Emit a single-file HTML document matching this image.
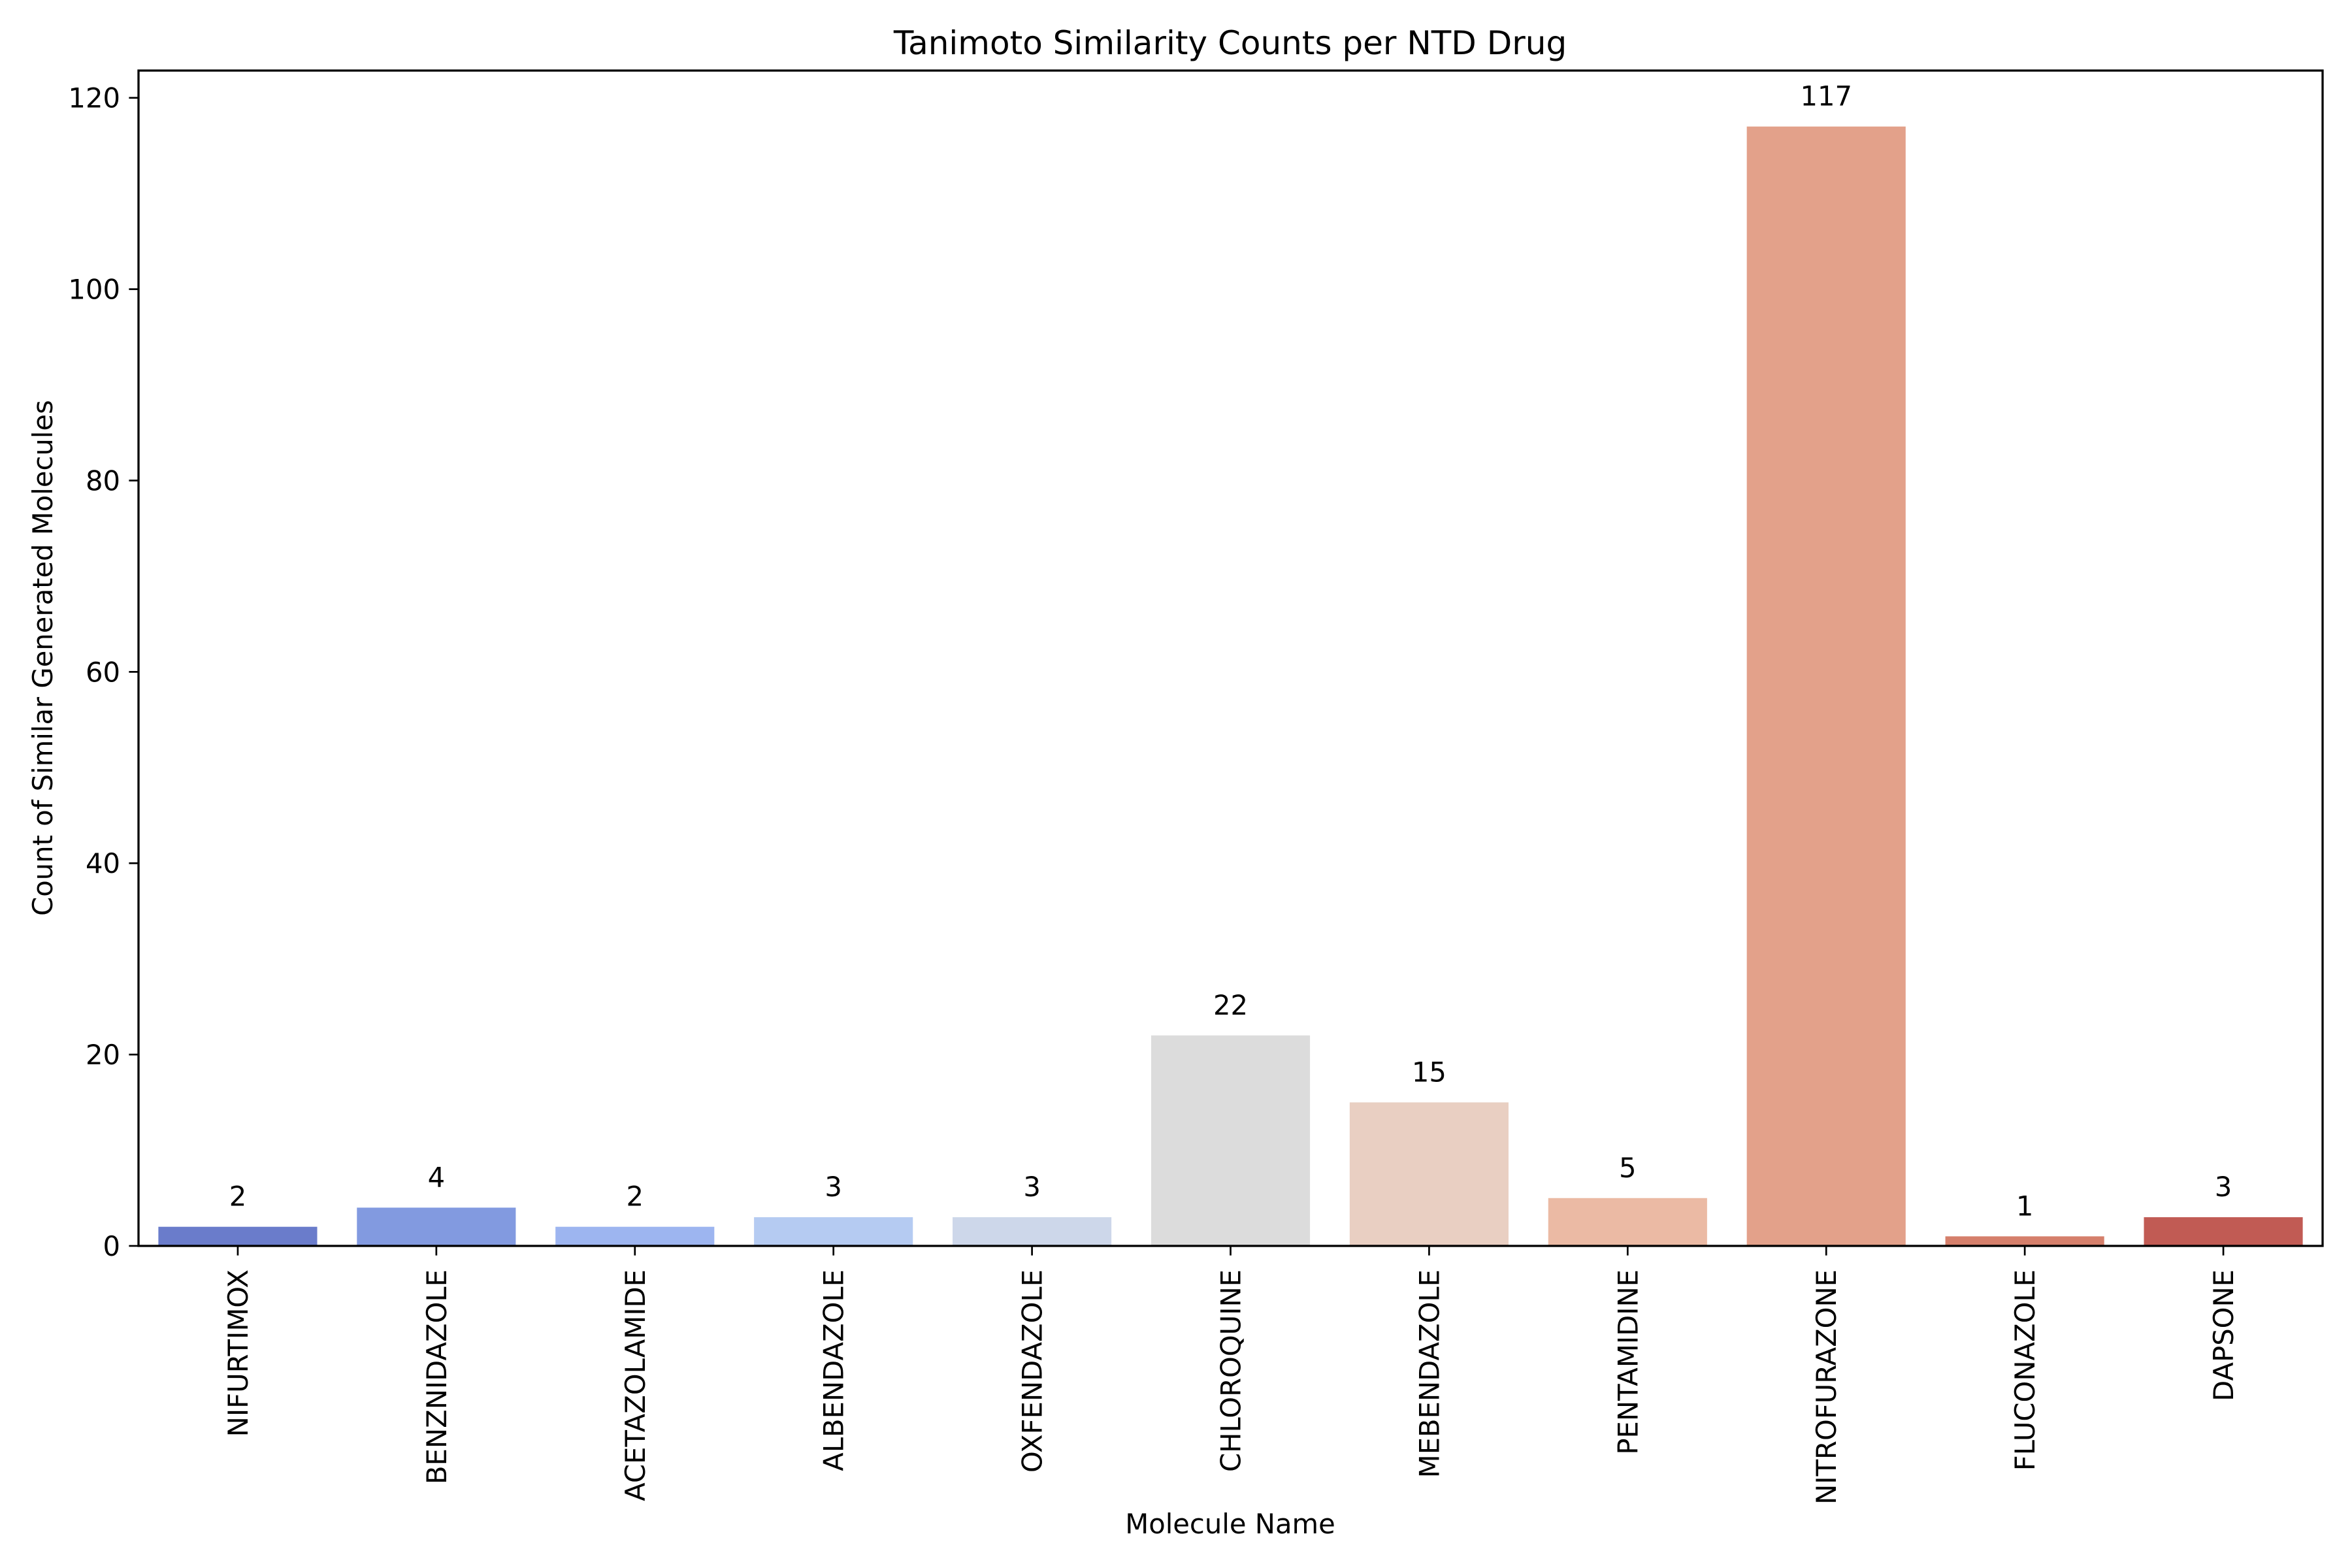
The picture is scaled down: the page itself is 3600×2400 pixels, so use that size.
<!DOCTYPE html>
<html><head><meta charset="utf-8"><style>
html,body{margin:0;padding:0;background:#fff;}
svg{display:block;font-family:"DejaVu Sans","Liberation Sans",sans-serif;}
</style></head><body>
<svg id="chart" width="3600" height="2400" viewBox="0 0 3600 2400" xmlns="http://www.w3.org/2000/svg">
<rect x="0" y="0" width="3600" height="2400" fill="#fff"/>
<text x="1883" y="83" font-size="50" text-anchor="middle">Tanimoto Similarity Counts per NTD Drug</text>
<text transform="translate(80,1007) rotate(-90)" font-size="41.7" text-anchor="middle">Count of Similar Generated Molecules</text>
<text x="1883" y="2347" font-size="41.7" text-anchor="middle">Molecule Name</text>
<g id="bars"></g>
<g id="yticks"></g>
<g id="xticks"></g>
<rect x="212" y="108" width="3343" height="1799" fill="none" stroke="#000" stroke-width="3.3"/>
</svg>
<script>
const categories = ["NIFURTIMOX","BENZNIDAZOLE","ACETAZOLAMIDE","ALBENDAZOLE","OXFENDAZOLE","CHLOROQUINE","MEBENDAZOLE","PENTAMIDINE","NITROFURAZONE","FLUCONAZOLE","DAPSONE"];
const counts = [2,4,2,3,3,22,15,5,117,1,3];
const colors = ["#6a7ccb","#829ae0","#9db5f0","#b5cbf2","#cdd7ea","#dcdcdc","#e9cfc2","#ebbaa4","#e3a18a","#d57f6b","#c15b54"];
const yTicks = [0,20,40,60,80,100,120];

const NS="http://www.w3.org/2000/svg";
const L=212,R=3555,T=108,B=1907;
const yMax=Math.max(...counts)*1.05;
const step=(R-L)/categories.length;
function xs(i){return L+step*(i+0.5);}
function ys(v){return B-(B-T)*v/yMax;}
function mk(tag,attrs,parent){const e=document.createElementNS(NS,tag);for(const k in attrs)e.setAttribute(k,attrs[k]);parent.appendChild(e);return e;}
const gb=document.getElementById('bars'),gy=document.getElementById('yticks'),gx=document.getElementById('xticks');
categories.forEach((c,i)=>{
  const w=step*0.8,cx=xs(i),top=ys(counts[i]);
  const r=mk('rect',{x:cx-w/2,y:top,width:w,height:B-top,fill:colors[i]},gb);
  
  
  const t=mk('text',{x:cx,y:top-32,'font-size':41.7,'text-anchor':'middle'},gb);
  t.textContent=counts[i];
  
  
  const tk=mk('line',{x1:cx,x2:cx,y1:B,y2:B+14.6,stroke:'#000','stroke-width':2.7},gx);
  
  
  const lb=mk('text',{transform:`translate(${cx+15},1943) rotate(-90)`,'font-size':41.7,'text-anchor':'end'},gx);
  lb.textContent=c;
  
  
});
yTicks.forEach(v=>{
  const y=ys(v);
  const tk=mk('line',{x1:L-14.6,x2:L,y1:y,y2:y,stroke:'#000','stroke-width':2.7},gy);
  
  
  const t=mk('text',{x:184,y:y+15,'font-size':41.7,'text-anchor':'end'},gy);
  t.textContent=v;
  
  
});
</script>
</body></html>
